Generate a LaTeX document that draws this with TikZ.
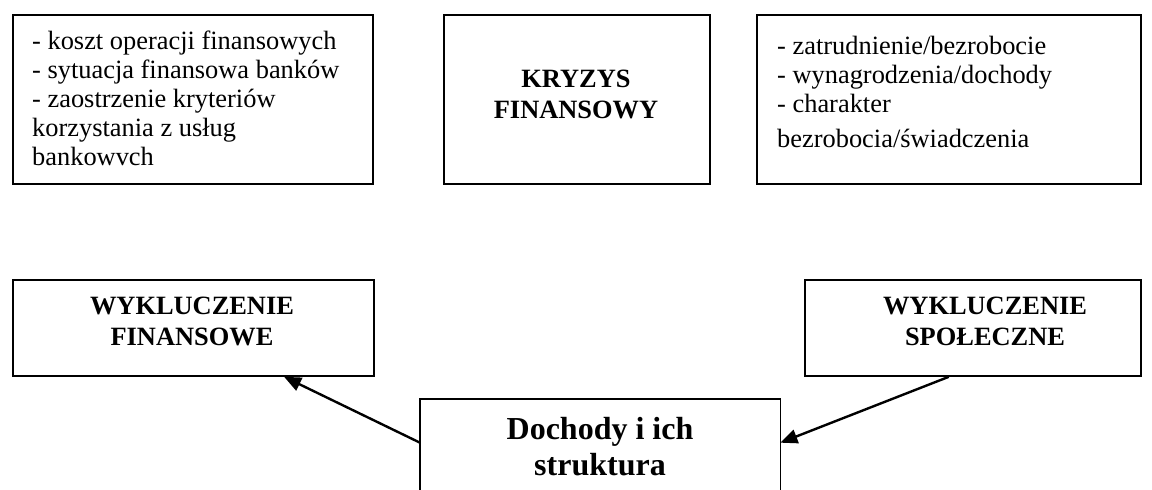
\documentclass[tikz,border=0pt]{standalone}
\usepackage{fontspec}
\setmainfont{Liberation Serif}
\usetikzlibrary{arrows.meta,calc}
\begin{document}
\begin{tikzpicture}[x=1pt,y=-1pt,
  frame/.style={draw,line width=1.8pt,inner sep=0pt,anchor=north west},
  listtext/.style={anchor=base west,align=left,inner sep=0pt,
    font=\fontsize{26.4}{28.8}\selectfont},
  headtext/.style={anchor=base,align=center,inner sep=0pt,
    font=\fontsize{26.4}{30.5}\selectfont\bfseries},
  link/.style={line width=2.4pt,-{Triangle[length=17pt,width=14pt]}}]
\useasboundingbox (0,0) rectangle (1152,490);

% upper row of boxes
\node[frame,minimum width=360pt,minimum height=169pt] (bank) at (12,14) {};
\node[frame,minimum width=266pt,minimum height=169pt] (kryzys) at (443,14) {};
\node[frame,minimum width=384pt,minimum height=169pt] (praca) at (756,14) {};

% text blocks are placed by the baseline of their last line
\node[listtext] (banktxt) at (32,165) {- koszt operacji finansowych\\
- sytuacja finansowa banków\\
- zaostrzenie kryteriów\\
korzystania z usług\\
bankowvch};
\node[headtext] (kryzystxt) at (576,118) {KRYZYS\\FINANSOWY};
\node[listtext] (pracatxt) at (777,147) {- zatrudnienie/bezrobocie\\
- wynagrodzenia/dochody\\
- charakter\\[6pt]
bezrobocia/świadczenia};

% lower row of boxes
\node[frame,minimum width=361pt,minimum height=96pt] (fin) at (12,279) {};
\node[frame,minimum width=336pt,minimum height=96pt] (spol) at (804,279) {};
\node[inner sep=0pt,anchor=north west,minimum width=360pt,minimum height=93pt] (doch) at (420,399) {};
\draw[line width=1.8pt] (doch.south west) |- (doch.north east) -- (doch.south east);

\node[headtext] (fintxt) at (192,345) {WYKLUCZENIE\\FINANSOWE};
\node[headtext] (spoltxt) at (985,345) {WYKLUCZENIE\\SPOŁECZNE};
\node[headtext,font=\fontsize{32}{36}\selectfont\bfseries] (dochtxt) at (600,475) {Dochody i ich\\struktura};

% connectors
\draw[link] ([yshift=3pt]doch.west) -- ($(fin.south west)!0.75!(fin.south east)$);
\draw[link] ($(spol.south west)!0.4286!(spol.south east)$) -- ([yshift=3pt]doch.east);
\end{tikzpicture}
\end{document}
